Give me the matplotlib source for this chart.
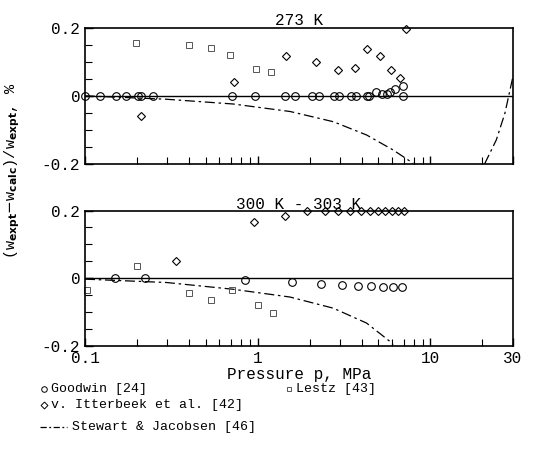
import matplotlib
matplotlib.use("Agg")
import matplotlib.pyplot as plt
import numpy as np

plt.rcParams['font.family'] = ['Liberation Mono', 'DejaVu Sans']

# 273 K
goodwin_p_273 = [0.1, 0.122, 0.152, 0.172, 0.202, 0.21, 0.246, 0.706, 0.96, 1.44, 1.64,
                 2.07, 2.26, 2.77, 2.96, 3.46, 3.70, 4.27, 4.42, 4.87, 5.21, 5.57, 5.82,
                 6.22, 6.95, 6.95]
goodwin_d_273 = [0, 0, 0, 0, 0, 0, 0, 0, 0, 0, 0,
                 0, 0, 0, 0, 0, 0, 0, 0, 0.01, 0.005, 0.005, 0.01,
                 0.02, 0.03, 0]
itter_p_273 = [0.21, 0.731, 1.46, 2.17, 2.90, 3.67, 4.30, 5.12, 5.90, 6.65, 7.18]
itter_d_273 = [-0.059, 0.040, 0.116, 0.098, 0.075, 0.082, 0.138, 0.116, 0.075, 0.053, 0.197]
lestz_p_273 = [0.197, 0.400, 0.534, 0.690, 0.984, 1.20]
lestz_d_273 = [0.155, 0.148, 0.142, 0.121, 0.079, 0.071]
sj_p_273 = [0.1, 0.297, 0.722, 1.54, 2.74, 4.27, 6.08, 7.94]
sj_d_273 = [0, -0.010, -0.024, -0.046, -0.076, -0.115, -0.159, -0.198]
sj_p_273b = [20.6, 24.1, 27.0, 29.5, 30.0]
sj_d_273b = [-0.2, -0.129, -0.051, 0.038, 0.055]

# 300 K - 303 K
goodwin_p_300 = [0.149, 0.224, 0.843, 1.59, 2.34, 3.06, 3.81, 4.52, 5.28, 6.08, 6.89]
goodwin_d_300 = [0, 0, -0.006, -0.012, -0.016, -0.019, -0.022, -0.024, -0.025, -0.025, -0.025]
itter_p_300 = [0.335, 0.955, 1.44, 1.94, 2.45, 2.93, 3.42, 3.96, 4.46, 4.94, 5.45, 6.00, 6.50, 7.02]
itter_d_300 = [0.052, 0.166, 0.185, 0.2, 0.2, 0.2, 0.2, 0.2, 0.2, 0.2, 0.2, 0.2, 0.2, 0.2]
lestz_p_300 = [0.103, 0.199, 0.402, 0.534, 0.706, 1.01, 1.22]
lestz_d_300 = [-0.035, 0.036, -0.043, -0.064, -0.035, -0.079, -0.104]
sj_p_300 = [0.1, 0.297, 0.722, 1.54, 2.74, 4.27, 5.82, 6.08]
sj_d_300 = [-0.003, -0.013, -0.033, -0.056, -0.089, -0.133, -0.187, -0.197]

titles = ['273 K', '300 K - 303 K']
dashdot = (0, (8, 3, 2, 3))

fig = plt.figure(figsize=(5.52, 4.71), dpi=100)
ax1 = fig.add_axes([0.154, 0.652, 0.775, 0.289])
ax2 = fig.add_axes([0.154, 0.266, 0.775, 0.287])


def panel(ax, gp, gd, ip, idv, lp, ld, curves, title):
    ax.set_xscale('log')
    ax.set_xlim(0.1, 30)
    ax.set_ylim(-0.2, 0.2)
    ax.axhline(0, color='black', lw=1.0, zorder=1)
    for cp, cd in curves:
        ax.plot(cp, cd, color='black', lw=0.9, linestyle=dashdot)
    ax.plot(gp, gd, 'o', ms=5.5, mfc='none', mec='black', mew=0.8, clip_on=False)
    ax.plot(ip, idv, 'D', ms=4.5, mfc='none', mec='black', mew=0.8, clip_on=False)
    ax.plot(lp, ld, 's', ms=4, mfc='none', mec='#555555', mew=0.7, clip_on=False)
    ax.set_yticks([-0.2, 0, 0.2])
    ax.set_yticklabels(['-0.2', '0', '0.2'])
    ax.set_yticks(np.arange(-0.15, 0.16, 0.05), minor=True)
    ax.tick_params(which='both', direction='in', top=False, right=False, labelsize=11.5)
    ax.tick_params(which='major', length=6, width=1)
    ax.tick_params(which='minor', length=5, width=0.8)
    for s in ax.spines.values():
        s.set_linewidth(1.2)
    ax.set_title(title, fontsize=11.5, pad=1)


panel(ax1, goodwin_p_273, goodwin_d_273, itter_p_273, itter_d_273, lestz_p_273, lestz_d_273,
      [(sj_p_273, sj_d_273), (sj_p_273b, sj_d_273b)], titles[0])
panel(ax2, goodwin_p_300, goodwin_d_300, itter_p_300, itter_d_300, lestz_p_300, lestz_d_300,
      [(sj_p_300, sj_d_300)], titles[1])

ax1.set_xticks([0.1, 1, 10, 30])
ax1.set_xticklabels([])
ax2.set_xticks([0.1, 1, 10, 30])
ax2.set_xticklabels(['0.1', '1', '10', '30'])
ax1.tick_params(axis='x', which='minor', labelbottom=False)
ax2.tick_params(axis='x', which='minor', labelbottom=False)
ax2.set_xlabel('Pressure p, MPa', fontsize=11.5, labelpad=1)

fig.text(0.022, 0.637, r'(w$_{\rm\bf expt}$$-$w$_{\rm\bf calc}$)/w$_{\rm\bf expt}$, %',
         rotation=90, ha='center', va='center', fontsize=11)

# legend entries drawn in figure coordinates
tf = fig.transFigure
fig.lines.append(plt.Line2D([0.080], [1 - 389 / 471], marker='o', ms=4, mfc='none',
                            mec='black', mew=0.7, transform=tf))
fig.text(0.093, 1 - 389 / 471, 'Goodwin [24]', fontsize=9.5, va='center')
fig.lines.append(plt.Line2D([0.523], [1 - 389 / 471], marker='s', ms=3.5, mfc='none',
                            mec='#555555', mew=0.7, transform=tf))
fig.text(0.536, 1 - 389 / 471, 'Lestz [43]', fontsize=9.5, va='center')
fig.lines.append(plt.Line2D([0.080], [1 - 405 / 471], marker='D', ms=3.5, mfc='none',
                            mec='black', mew=0.7, transform=tf))
fig.text(0.093, 1 - 405 / 471, 'v. Itterbeek et al. [42]', fontsize=9.5, va='center')
fig.lines.append(plt.Line2D([0.072, 0.122], [1 - 427 / 471] * 2, color='black', lw=0.9,
                            linestyle=(0, (5, 2, 1.5, 2)), transform=tf))
fig.text(0.130, 1 - 427 / 471, 'Stewart & Jacobsen [46]', fontsize=9.5, va='center')

fig.savefig('out.png', dpi=100)
